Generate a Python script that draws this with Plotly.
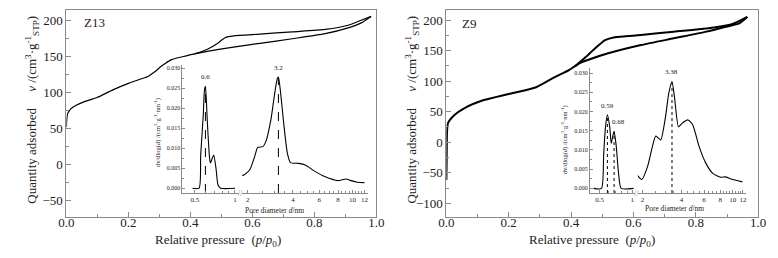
import math
import plotly.graph_objects as go

# page is drawn with the browser's 8px body margin; figure coordinates = screenshot - 8
OFF = 8
W, H = 770, 250

# ---------------- data ----------------
# Z13 isotherm
z13_ads_p = [0, 0.001, 0.004, 0.015, 0.033, 0.06, 0.097, 0.15, 0.2, 0.24, 0.265, 0.285, 0.307, 0.339,
             0.374, 0.413, 0.518, 0.624, 0.729, 0.835, 0.909, 0.951, 0.983]
z13_ads_v = [51, 62, 70, 77, 82, 87, 92, 103, 112, 118, 122, 128, 136, 145,
             149, 153, 161, 167.5, 174, 181, 189, 196, 205]
z13_des_p = [0.983, 0.951, 0.909, 0.835, 0.729, 0.624, 0.54, 0.513, 0.487, 0.455, 0.43, 0.413]
z13_des_v = [205, 199.6, 192.7, 187, 183.6, 180.4, 178, 175.8, 167.5, 159.3, 155, 153]

# Z9 isotherm
z9_ads_p = [0, 0.001, 0.002, 0.005, 0.026, 0.057, 0.12, 0.2, 0.288, 0.34, 0.393, 0.414, 0.435, 0.467,
            0.519, 0.624, 0.729, 0.834, 0.897, 0.939, 0.965]
z9_ads_v = [-62, -24, 14.6, 31, 44.5, 55.5, 69, 79, 90, 104.5, 118, 125, 131, 137,
            145.5, 159, 170, 181, 189, 194.6, 205]
z9_des_p = [0.965, 0.918, 0.834, 0.729, 0.624, 0.54, 0.509, 0.477, 0.446, 0.414]
z9_des_v = [205, 193.5, 186, 181, 175.5, 171.7, 167, 153.7, 139, 125]

# Z13 pore size distribution
z13_psd_d1 = [0.48, 0.538, 0.553, 0.578, 0.59, 0.6, 0.61, 0.62, 0.645, 0.655, 0.675, 0.693, 0.72, 0.746, 0.78, 1.0]
z13_psd_v1 = [0, 0, 0.0083, 0.0183, 0.0245, 0.0255, 0.022, 0.0167, 0.0075, 0.0063, 0.0075, 0.0083, 0.005, 0.0008, 0, 0]
z13_psd_d2 = [1.77, 1.86, 2.06, 2.22, 2.33, 2.52, 2.64, 2.85, 3.0, 3.15, 3.2, 3.31, 3.49, 3.67, 3.85, 4.37, 4.83,
              5.61, 6.52, 7.98, 9.04, 9.75, 10.78, 12.0]
z13_psd_v2 = [0.0036, 0.0032, 0.0046, 0.0079, 0.0102, 0.0104, 0.0117, 0.0171, 0.0229, 0.0275, 0.0278, 0.0238,
              0.0154, 0.0088, 0.0064, 0.0062, 0.0058, 0.0042, 0.0029, 0.0019, 0.0023, 0.0019, 0.0015, 0.0014]
z13_peaks = [0.6, 3.2]
z13_peak_v = [0.0255, 0.0278]
z13_peak_labels = ["0.6", "3.2"]

# Z9 pore size distribution
z9_psd_d1 = [0.44, 0.52, 0.545, 0.565, 0.59, 0.62, 0.64, 0.665, 0.68, 0.71, 0.75, 0.79, 1.03]
z9_psd_v1 = [0, 0, 0.0087, 0.0156, 0.0191, 0.016, 0.0117, 0.0139, 0.0148, 0.0113, 0.0035, 0, 0]
z9_psd_d2 = [1.81, 1.97, 2.18, 2.38, 2.53, 2.76, 3.01, 3.19, 3.38, 3.53, 3.8, 4.04, 4.5, 4.9, 5.5, 6.2,
             7.0, 8.1, 8.8, 10, 11.9]
z9_psd_v2 = [0.0035, 0.0023, 0.0056, 0.0108, 0.0136, 0.0126, 0.0186, 0.0247, 0.0278, 0.0239, 0.016, 0.0169,
             0.0178, 0.0165, 0.0108, 0.0065, 0.0039, 0.0029, 0.003, 0.0023, 0.0017]
z9_peaks = [0.59, 0.68, 3.38]
z9_peak_v = [0.0191, 0.0148, 0.0278]
z9_peak_labels = ["0.59", "0.68", "3.38"]

main_xticks = [0, 0.2, 0.4, 0.6, 0.8, 1.0]
inset_yticks = [0, 0.005, 0.01, 0.015, 0.02, 0.025, 0.03]
inset_x1_ticks = [0.5, 1]
inset_x2_ticks = [2, 4, 6, 8, 10, 12]

# ---------------- helpers ----------------
def px(x):
    return (x - OFF) / W

def py(y):
    return 1 - (y - OFF) / H

FONT = "Liberation Serif"
GRAY = "#8a8a8a"
TXT = "#222222"

fig = go.Figure()

def line(x, y, xa, ya, width=1.2, dash=None, shape="spline", smoothing=0.6):
    d = dict(color="black", width=width)
    if dash:
        d["dash"] = dash
    if shape == "spline":
        d["shape"] = "spline"
        d["smoothing"] = smoothing
    fig.add_trace(go.Scatter(x=x, y=y, xaxis=xa, yaxis=ya, mode="lines", line=d, hoverinfo="skip"))

# main isotherms
line(z13_ads_p, z13_ads_v, "x", "y", 1.2)
line(z13_des_p, z13_des_v, "x", "y", 1.2)
line(z9_ads_p, z9_ads_v, "x2", "y2", 2.0)
line(z9_des_p, z9_des_v, "x2", "y2", 2.0)

# insets
Z13_YR = [-0.0012, 0.0308]
Z9_YR = [-0.0012, 0.0313]
line(z13_psd_d1, z13_psd_v1, "x3", "y3", 1.1)
line(z13_psd_d2, z13_psd_v2, "x4", "y3", 1.1)
line(z9_psd_d1, z9_psd_v1, "x5", "y4", 1.1)
line(z9_psd_d2, z9_psd_v2, "x6", "y4", 1.1)

for d, v in zip(z13_peaks, z13_peak_v):
    xa = "x3" if d < 1.5 else "x4"
    line([d, d], [Z13_YR[0], v], xa, "y3", 1.0, dash="dash", shape="linear")
for d, v in zip(z9_peaks, z9_peak_v):
    xa = "x5" if d < 1.5 else "x6"
    line([d, d], [Z9_YR[0], v], xa, "y4", 1.0, dash="dot", shape="linear")

# ---------------- axes ----------------
main_ax = dict(showline=True, mirror=True, linecolor=GRAY, linewidth=1, ticks="inside", ticklen=5,
               tickcolor=GRAY, showgrid=False, zeroline=False,
               tickfont=dict(family=FONT, size=13, color=TXT))

ytop, ybot = 10, 216.5
main_y_dom = [py(ybot), py(ytop)]

layout = dict(
    width=W, height=H, margin=dict(l=0, r=0, t=0, b=0), autosize=False,
    paper_bgcolor="white", plot_bgcolor="rgba(0,0,0,0)", showlegend=False,
    font=dict(family=FONT, color=TXT),
)

xminor = dict(dtick=0.1, ticks="inside", ticklen=3, tickcolor=GRAY)
yminor = dict(dtick=25, tick0=0, ticks="inside", ticklen=3, tickcolor=GRAY)
layout["xaxis"] = dict(main_ax, domain=[px(59.5), px(376)], range=[0, 1], tickvals=main_xticks,
                       tickformat=".1f", minor=xminor, anchor="y", ticklabelstandoff=-6)
layout["yaxis"] = dict(main_ax, domain=main_y_dom, range=[-72.9, 213.9], dtick=50, tick0=0,
                       minor=yminor, anchor="x")
layout["xaxis2"] = dict(main_ax, domain=[px(447.5), px(766)], range=[0, 1], tickvals=main_xticks,
                        tickformat=".1f", minor=xminor, anchor="y2", ticklabelstandoff=-6)
layout["yaxis2"] = dict(main_ax, domain=main_y_dom, range=[-121.6, 216.4], dtick=50, tick0=0,
                        minor=yminor, anchor="x2")

in_ax = dict(showline=True, mirror=False, linecolor=GRAY, linewidth=0.8, ticks="inside", ticklen=3,
             tickcolor=GRAY, tickwidth=0.8, showgrid=False, zeroline=False)

def inset_y(dom_top, dom_bot, rng, anchor):
    return dict(in_ax, domain=[py(dom_bot), py(dom_top)], range=rng, tickvals=inset_yticks,
                tickformat=".3f", tickfont=dict(family=FONT, size=6, color=TXT), anchor=anchor,
                minor=dict(tickmode="array", tickvals=[0.0025, 0.0075, 0.0125, 0.0175, 0.0225, 0.0275],
                           ticks="inside", ticklen=2, tickcolor=GRAY))

minor1 = [0.6, 0.7, 0.8, 0.9]
minor2 = [2.5, 3, 3.5, 4.5, 5, 5.5, 6.5, 7, 7.5, 8.5, 9, 9.5, 10.5, 11, 11.5]

def inset_x(left, right, rng, ticks, minor, anchor):
    return dict(in_ax, type="log", domain=[px(left), px(right)], range=rng, tickvals=ticks,
                ticktext=[str(t) for t in ticks], tickfont=dict(family=FONT, size=7, color=TXT),
                anchor=anchor, minor=dict(tickmode="array", tickvals=minor, ticks="inside",
                                          ticklen=2, tickcolor=GRAY))

layout["yaxis3"] = inset_y(65, 193, Z13_YR, "x3")
layout["xaxis3"] = inset_x(178, 236, [-0.394, 0.032], inset_x1_ticks, minor1, "y3")
layout["xaxis4"] = inset_x(239, 367, [0.2634, 1.100], inset_x2_ticks, minor2, "y3")
layout["yaxis4"] = inset_y(68, 193, Z9_YR, "x5")
layout["xaxis5"] = inset_x(594, 640, [-0.391, 0.024], inset_x1_ticks, minor1, "y4")
layout["xaxis6"] = inset_x(643, 753, [0.2637, 1.0996], inset_x2_ticks, minor2, "y4")

fig.update_layout(**layout)

# ---------------- annotations ----------------
ann = []

def txt(x, y, text, size, angle=0, xanchor="center", yanchor="middle", color=TXT):
    ann.append(dict(x=px(x), y=py(y), xref="paper", yref="paper", text=text, showarrow=False,
                    font=dict(family=FONT, size=size, color=color),
                    textangle=angle, xanchor=xanchor, yanchor=yanchor))

sp = "\u00a0"
ytitle = ("Quantity adsorbed" + sp * 5 +
          "<i>v</i> /(cm<sup>3</sup>·g<sup>-1</sup><sub>STP</sub>)")
txt(24, 110, ytitle, 13, angle=-90)
txt(412, 110, ytitle, 13, angle=-90)

xtitle = "Relative pressure" + sp * 2 + "(<i>p</i>/<i>p</i><sub>0</sub>)"
txt(214, 240, xtitle, 13)
txt(596, 240, xtitle, 13)

txt(75, 22, "Z13", 13, xanchor="left")
txt(461, 23, "Z9", 13, xanchor="left")

inset_ytitle = "dv/dlog(<i>d</i>) /(cm<sup>3</sup>·g<sup>-1</sup>·nm<sup>-1</sup>)"
txt(152, 133, inset_ytitle, 6.5, angle=-90)
txt(568, 140, inset_ytitle, 6.5, angle=-90)

pd_title = "Pore diameter <i>d</i>/nm"
txt(272, 210, pd_title, 7.5)
txt(680, 208, pd_title, 7.5)

# break marks
txt(237.5, 193, "//", 8, color=GRAY)
txt(641.5, 193, "//", 8, color=GRAY)

# peak labels
for d, v, lab in zip(z13_peaks, z13_peak_v, z13_peak_labels):
    xa = "x3" if d < 1.5 else "x4"
    ann.append(dict(x=math.log10(d), y=v, xref=xa, yref="y3", text=lab, showarrow=False,
                    font=dict(family=FONT, size=7, color=TXT), yanchor="bottom", yshift=3))
shifts = {"0.59": (0, 3), "0.68": (4, 3), "3.38": (0, 3)}
for d, v, lab in zip(z9_peaks, z9_peak_v, z9_peak_labels):
    xa = "x5" if d < 1.5 else "x6"
    xs, ys = shifts[lab]
    ann.append(dict(x=math.log10(d), y=v, xref=xa, yref="y4", text=lab, showarrow=False,
                    font=dict(family=FONT, size=7, color=TXT), yanchor="bottom", xanchor="center",
                    xshift=xs, yshift=ys))

fig.update_layout(annotations=ann)

fig.write_html("out.html")
